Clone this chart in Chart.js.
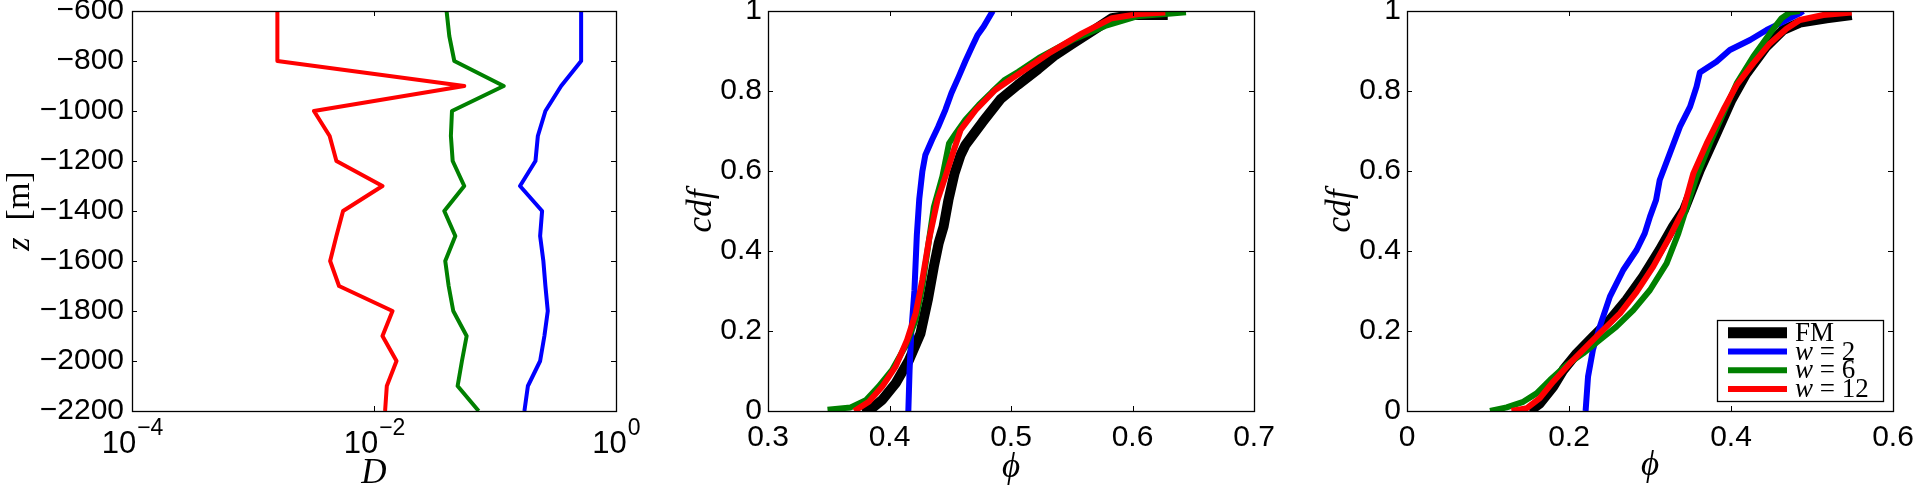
<!DOCTYPE html>
<html>
<head>
<meta charset="utf-8">
<script src="https://cdn.jsdelivr.net/npm/chart.js@4.4.1/dist/chart.umd.min.js"></script>
<style>
html,body{margin:0;padding:0;background:#fff;width:1913px;height:488px;overflow:hidden}
.panel{position:absolute;top:0;height:488px;width:640px}
canvas{display:block}
</style>
</head>
<body>
<div class="panel" style="left:0px"><canvas id="c1" width="640" height="488"></canvas></div>
<div class="panel" style="left:640px"><canvas id="c2" width="640" height="488"></canvas></div>
<div class="panel" style="left:1273px"><canvas id="c3" width="640" height="488"></canvas></div>
<script>
// ---------- shared ----------
const seriesLabels = ['FM', 'w = 2', 'w = 6', 'w = 12'];
const seriesColors = ['#000000', '#0000ff', '#008000', '#ff0000'];

// ---------- panel 1: D vs depth ----------
const zLevels = [-600, -700, -800, -900, -1000, -1100, -1200, -1300, -1400, -1500, -1600, -1700, -1800, -1900, -2000, -2100, -2200];
const dW2  = [0.515, 0.515, 0.515, 0.352, 0.261, 0.226, 0.216, 0.161, 0.245, 0.236, 0.251, 0.261, 0.273, 0.256, 0.236, 0.187, 0.175];
const dW6  = [0.0398, 0.0419, 0.0461, 0.118, 0.0441, 0.0432, 0.0447, 0.0557, 0.0381, 0.0470, 0.0388, 0.0414, 0.0452, 0.0583, 0.0533, 0.0491, 0.0733];
const dW12 = [0.00159, 0.00159, 0.00159, 0.0557, 0.00319, 0.00430, 0.00489, 0.01175, 0.00555, 0.00489, 0.00434, 0.00514, 0.01422, 0.01175, 0.01535, 0.01276, 0.01235];
const p1XTicks = [1e-4, 1e-2, 1];
const p1XBase = ['10', '10', '10'];
const p1XExp = ['\u22124', '\u22122', '0'];
const p1YTicks = [-600, -800, -1000, -1200, -1400, -1600, -1800, -2000, -2200];
const p1YLabels = ['\u2212600', '\u2212800', '\u22121000', '\u22121200', '\u22121400', '\u22121600', '\u22121800', '\u22122000', '\u22122200'];

// ---------- panel 2: cdf of phi ----------
const p2FMPhi  = [0.3775, 0.386, 0.394, 0.405, 0.416, 0.4255, 0.4315, 0.4365, 0.4405, 0.4445, 0.4485, 0.4535, 0.4585, 0.4625, 0.4765, 0.4915, 0.5055, 0.5225, 0.5365, 0.5505, 0.564, 0.583, 0.600, 0.629];
const p2FMCdf  = [0, 0.008, 0.028, 0.069, 0.127, 0.194, 0.2775, 0.361, 0.42, 0.461, 0.5275, 0.594, 0.64, 0.665, 0.722, 0.78, 0.815, 0.855, 0.89, 0.918, 0.944, 0.982, 0.99, 0.99];
const p2W2Phi  = [0.4155, 0.4165, 0.418, 0.4205, 0.4225, 0.4245, 0.427, 0.4295, 0.435, 0.440, 0.446, 0.451, 0.457, 0.4625, 0.468, 0.4725, 0.4775, 0.485];
const p2W2Cdf  = [0, 0.1, 0.2, 0.3, 0.44, 0.53, 0.598, 0.64, 0.678, 0.71, 0.753, 0.795, 0.836, 0.875, 0.911, 0.94, 0.961, 1.0];
const p2W6Phi  = [0.349, 0.368, 0.3805, 0.391, 0.402, 0.413, 0.4215, 0.427, 0.4325, 0.4365, 0.4435, 0.449, 0.4545, 0.4625, 0.4735, 0.4845, 0.495, 0.506, 0.523, 0.5505, 0.5775, 0.605, 0.627, 0.644];
const p2W6Cdf  = [0.003, 0.009, 0.027, 0.061, 0.102, 0.161, 0.227, 0.311, 0.427, 0.51, 0.586, 0.669, 0.694, 0.728, 0.765, 0.798, 0.828, 0.848, 0.8825, 0.9275, 0.9625, 0.9875, 0.9925, 0.997];
const p2W12Phi = [0.371, 0.383, 0.394, 0.405, 0.4145, 0.4215, 0.427, 0.4325, 0.4395, 0.446, 0.453, 0.4585, 0.471, 0.487, 0.501, 0.505, 0.531, 0.5585, 0.583, 0.605, 0.627];
const p2W12Cdf = [0, 0.023, 0.061, 0.111, 0.1775, 0.244, 0.3275, 0.4275, 0.5275, 0.586, 0.6525, 0.7025, 0.7525, 0.8025, 0.832, 0.84, 0.894, 0.944, 0.982, 0.9925, 0.996];
const p2XTicks = [0.3, 0.4, 0.5, 0.6, 0.7];
const p2XLabels = ['0.3', '0.4', '0.5', '0.6', '0.7'];
const cdfTicks = [0, 0.2, 0.4, 0.6, 0.8, 1];
const cdfLabels = ['0', '0.2', '0.4', '0.6', '0.8', '1'];

// ---------- panel 3: cdf of phi ----------
const p3FMPhi  = [0.1515, 0.164, 0.1805, 0.193, 0.2095, 0.230, 0.2505, 0.271, 0.2915, 0.312, 0.3285, 0.342, 0.3615, 0.382, 0.4005, 0.419, 0.4435, 0.4645, 0.485, 0.518, 0.549];
const p3FMCdf  = [0, 0.019, 0.061, 0.1025, 0.144, 0.186, 0.2275, 0.2775, 0.336, 0.4025, 0.461, 0.5025, 0.6025, 0.694, 0.7775, 0.844, 0.911, 0.9525, 0.971, 0.982, 0.99];
const p3W2Phi  = [0.2205, 0.2235, 0.2295, 0.238, 0.2505, 0.267, 0.2835, 0.2935, 0.300, 0.3075, 0.312, 0.3245, 0.337, 0.3495, 0.3575, 0.3615, 0.382, 0.3985, 0.4235, 0.444, 0.4605, 0.473, 0.485, 0.489];
const p3W2Cdf  = [0, 0.086, 0.1525, 0.211, 0.286, 0.3525, 0.4025, 0.444, 0.486, 0.5275, 0.5775, 0.644, 0.711, 0.761, 0.811, 0.846, 0.873, 0.9025, 0.9275, 0.9525, 0.969, 0.982, 0.994, 1.0];
const p3W6Phi  = [0.1025, 0.123, 0.1435, 0.160, 0.1765, 0.197, 0.2175, 0.238, 0.2585, 0.2795, 0.300, 0.3205, 0.335, 0.3455, 0.3575, 0.374, 0.3905, 0.407, 0.4275, 0.448, 0.4625, 0.4725, 0.485];
const p3W6Cdf  = [0, 0.009, 0.023, 0.044, 0.0775, 0.115, 0.144, 0.1775, 0.211, 0.2525, 0.3025, 0.369, 0.444, 0.511, 0.586, 0.669, 0.744, 0.819, 0.886, 0.944, 0.982, 0.996, 1.0];
const p3W12Phi = [0.129, 0.148, 0.164, 0.1805, 0.201, 0.2215, 0.242, 0.263, 0.2835, 0.304, 0.3245, 0.341, 0.3535, 0.370, 0.3905, 0.407, 0.4275, 0.448, 0.4685, 0.485, 0.514, 0.549];
const p3W12Cdf = [0, 0.007, 0.032, 0.0733, 0.119, 0.161, 0.2025, 0.244, 0.298, 0.361, 0.436, 0.5025, 0.594, 0.669, 0.7525, 0.815, 0.869, 0.919, 0.9558, 0.9775, 0.99, 0.996];
const p3XTicks = [0, 0.2, 0.4, 0.6];
const p3XLabels = ['0', '0.2', '0.4', '0.6'];

// ---------- helpers ----------
const SANS = "'Liberation Sans', Arial, Helvetica, sans-serif";
const SERIF = "'Liberation Serif', 'Times New Roman', serif";
const TICK_FONT = {family: SANS, size: 30, lineHeight: 1.2};
const TITLE_FONT = {family: SERIF, size: 35, style: 'italic', lineHeight: 1};

function pairs(xs, ys) { return xs.map((x, i) => ({x: x, y: ys[i]})); }

function fixedTicks(values) {
  return function (scale) { scale.ticks = values.map(v => ({value: v})); };
}

const frameTicks = {
  id: 'frameTicks',
  afterDatasetsDraw(chart) {
    const {ctx, chartArea: a, scales} = chart;
    const L = 5;
    ctx.save();
    ctx.strokeStyle = '#000';
    ctx.lineWidth = 1;
    ctx.beginPath();
    scales.x.ticks.forEach(t => {
      const px = Math.round(scales.x.getPixelForValue(t.value)) + 0.5;
      ctx.moveTo(px, a.bottom); ctx.lineTo(px, a.bottom - L);
      ctx.moveTo(px, a.top); ctx.lineTo(px, a.top + L);
    });
    scales.y.ticks.forEach(t => {
      const py = Math.round(scales.y.getPixelForValue(t.value)) + 0.5;
      ctx.moveTo(a.left, py); ctx.lineTo(a.left + L, py);
      ctx.moveTo(a.right, py); ctx.lineTo(a.right - L, py);
    });
    ctx.stroke();
    ctx.lineWidth = 1.3;
    ctx.strokeRect(Math.round(a.left) + 0.5, Math.round(a.top) + 0.5, Math.round(a.right - a.left), Math.round(a.bottom - a.top));
    ctx.restore();
  }
};

function mathText(ctx, parts, x, y, size, align) {
  // parts: [[text, italic], ...]
  let total = 0;
  parts.forEach(p => {
    ctx.font = (p[1] ? 'italic ' : '') + size + 'px ' + SERIF;
    total += ctx.measureText(p[0]).width;
  });
  let cx = align === 'center' ? x - total / 2 : x;
  parts.forEach(p => {
    ctx.font = (p[1] ? 'italic ' : '') + size + 'px ' + SERIF;
    ctx.fillText(p[0], cx, y);
    cx += ctx.measureText(p[0]).width;
  });
}

function labelParts(label) {
  if (label.startsWith('w')) return [['w', true], [label.slice(1), false]];
  return [[label, false]];
}

const zTitle = {
  id: 'zTitle',
  afterDraw(chart) {
    const {ctx, chartArea: a} = chart;
    ctx.save();
    ctx.fillStyle = '#000';
    ctx.textBaseline = 'middle';
    ctx.translate(20, (a.top + a.bottom) / 2);
    ctx.rotate(-Math.PI / 2);
    mathText(ctx, [['z', true], ['  [m]', false]], 0, 0, 34, 'center');
    ctx.restore();
  }
};

const logLabels = {
  id: 'logLabels',
  afterDraw(chart) {
    const {ctx, chartArea: a, scales} = chart;
    const sx = scales.x;
    ctx.save();
    ctx.fillStyle = '#000';
    ctx.textBaseline = 'alphabetic';
    p1XTicks.forEach((v, i) => {
      const px = sx.getPixelForValue(v);
      ctx.font = '31px ' + SANS;
      const wb = ctx.measureText(p1XBase[i]).width;
      ctx.font = '23px ' + SANS;
      const we = ctx.measureText(p1XExp[i]).width;
      const x0 = px - (wb + we) / 2;
      ctx.font = '31px ' + SANS;
      ctx.fillText(p1XBase[i], x0, a.bottom + 42);
      ctx.font = '23px ' + SANS;
      ctx.fillText(p1XExp[i], x0 + wb + 1, a.bottom + 24);
    });
    ctx.restore();
  }
};

const boxLegend = {
  id: 'boxLegend',
  afterDraw(chart) {
    const {ctx, chartArea: a} = chart;
    const w = 166, h = 81;
    const x0 = a.right - 10 - w, y0 = a.bottom - 10 - h;
    ctx.save();
    ctx.fillStyle = '#fff';
    ctx.fillRect(x0, y0, w, h);
    ctx.strokeStyle = '#000';
    ctx.lineWidth = 1.3;
    ctx.strokeRect(Math.round(x0) + 0.5, Math.round(y0) + 0.5, w, h);
    chart.data.datasets.forEach((ds, i) => {
      const yy = y0 + 12.7 + i * 18.8;
      ctx.strokeStyle = ds.borderColor;
      ctx.lineWidth = i === 0 ? 11 : 6;
      ctx.lineCap = 'butt';
      ctx.beginPath();
      ctx.moveTo(x0 + 11, yy); ctx.lineTo(x0 + 70, yy);
      ctx.stroke();
      ctx.fillStyle = '#000';
      ctx.textBaseline = 'middle';
      mathText(ctx, labelParts(ds.label), x0 + 78, yy + 1, 27, 'left');
    });
    ctx.restore();
  }
};

function lineDs(label, color, data, width, order) {
  return {label: label, data: data, borderColor: color, backgroundColor: color,
    borderWidth: width, showLine: true, pointRadius: 0, pointHoverRadius: 0,
    fill: false, tension: 0, borderJoinStyle: 'round', borderCapStyle: 'butt', order: order};
}

function baseOptions(o) {
  return {
    responsive: false,
    animation: false,
    events: [],
    layout: {padding: {top: 11, right: o.rightPad, bottom: 0, left: 0}},
    plugins: {legend: {display: false}, tooltip: {enabled: false}},
    scales: {
      x: Object.assign({
        position: 'bottom',
        grid: {display: false, drawTicks: false},
        border: {display: false},
        afterBuildTicks: fixedTicks(o.xTicks),
        afterFit: s => { s.height = 77; s.paddingLeft = 0; s.paddingRight = 0; },
        ticks: {display: o.xLabels !== null, autoSkip: false, maxRotation: 0, color: '#000', font: TICK_FONT, padding: o.xPad,
                callback: (v, i) => (o.xLabels ? o.xLabels[i] : '')},
        title: {display: !!o.xTitle, text: o.xTitle || '', color: '#000', font: TITLE_FONT,
                padding: {top: 0, bottom: o.xTitlePad}}
      }, o.xScale),
      y: Object.assign({
        position: 'left',
        grid: {display: false, drawTicks: false},
        border: {display: false},
        afterBuildTicks: fixedTicks(o.yTicks),
        afterFit: s => { s.width = o.yWidth; s.paddingTop = 0; s.paddingBottom = 0; },
        ticks: {autoSkip: false, color: '#000', font: TICK_FONT, padding: o.yPad,
                callback: (v, i) => o.yLabels[i]},
        title: {display: !!o.yTitle, text: o.yTitle || '', color: '#000', font: TITLE_FONT,
                padding: {top: o.yTitlePad, bottom: 0}}
      }, o.yScale)
    }
  };
}

// ---------- panel 1 ----------
new Chart(document.getElementById('c1'), {
  type: 'scatter',
  data: {datasets: [
    lineDs(seriesLabels[1], seriesColors[1], pairs(dW2, zLevels), 4, 2),
    lineDs(seriesLabels[2], seriesColors[2], pairs(dW6, zLevels), 4, 1),
    lineDs(seriesLabels[3], seriesColors[3], pairs(dW12, zLevels), 4, 0)
  ]},
  options: baseOptions({
    rightPad: 24, yWidth: 132,
    xTicks: p1XTicks, xLabels: null, xPad: 14, xTitle: 'D', xTitlePad: -3,
    yTicks: p1YTicks, yLabels: p1YLabels, yPad: 8, yTitle: '', yTitlePad: 0,
    xScale: {type: 'logarithmic', min: 1e-4, max: 1},
    yScale: {type: 'linear', min: -2200, max: -600}
  }),
  plugins: [frameTicks, zTitle, logLabels]
});

// ---------- panel 2 ----------
new Chart(document.getElementById('c2'), {
  type: 'scatter',
  data: {datasets: [
    lineDs(seriesLabels[0], seriesColors[0], pairs(p2FMPhi, p2FMCdf), 10, 3),
    lineDs(seriesLabels[1], seriesColors[1], pairs(p2W2Phi, p2W2Cdf), 6, 2),
    lineDs(seriesLabels[2], seriesColors[2], pairs(p2W6Phi, p2W6Cdf), 6, 1),
    lineDs(seriesLabels[3], seriesColors[3], pairs(p2W12Phi, p2W12Cdf), 6, 0)
  ]},
  options: baseOptions({
    rightPad: 26, yWidth: 128,
    xTicks: p2XTicks, xLabels: p2XLabels, xPad: 9, xTitle: '\u03D5', xTitlePad: 3,
    yTicks: cdfTicks, yLabels: cdfLabels, yPad: 6, yTitle: 'cdf', yTitlePad: 44,
    xScale: {type: 'linear', min: 0.3, max: 0.7},
    yScale: {type: 'linear', min: 0, max: 1}
  }),
  plugins: [frameTicks]
});

// ---------- panel 3 ----------
new Chart(document.getElementById('c3'), {
  type: 'scatter',
  data: {datasets: [
    lineDs(seriesLabels[0], seriesColors[0], pairs(p3FMPhi, p3FMCdf), 10, 3),
    lineDs(seriesLabels[1], seriesColors[1], pairs(p3W2Phi, p3W2Cdf), 6, 2),
    lineDs(seriesLabels[2], seriesColors[2], pairs(p3W6Phi, p3W6Cdf), 6, 1),
    lineDs(seriesLabels[3], seriesColors[3], pairs(p3W12Phi, p3W12Cdf), 6, 0)
  ]},
  options: baseOptions({
    rightPad: 20, yWidth: 134,
    xTicks: p3XTicks, xLabels: p3XLabels, xPad: 9, xTitle: '\u03D5', xTitlePad: 5,
    yTicks: cdfTicks, yLabels: cdfLabels, yPad: 6, yTitle: 'cdf', yTitlePad: 50,
    xScale: {type: 'linear', min: 0, max: 0.6},
    yScale: {type: 'linear', min: 0, max: 1}
  }),
  plugins: [frameTicks, boxLegend]
});
</script>
</body>
</html>
